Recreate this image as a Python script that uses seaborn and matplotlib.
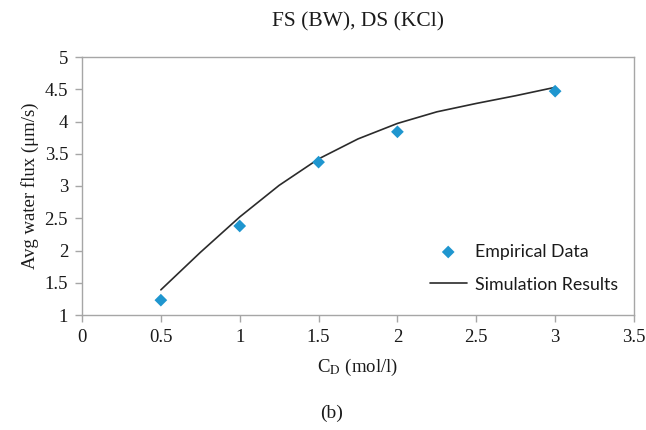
import matplotlib
matplotlib.use("Agg")
import matplotlib.pyplot as plt
import seaborn as sns
import pandas as pd

# Empirical data
emp_x = [0.5, 1.0, 1.5, 2.0, 3.0]
emp_y = [1.23, 2.38, 3.37, 3.84, 4.47]
# Simulation curve
sim_x = [0.5, 0.75, 1.0, 1.25, 1.5, 1.75, 2.0, 2.25, 2.5, 2.75, 3.0]
sim_y = [1.39, 1.97, 2.52, 3.01, 3.42, 3.73, 3.97, 4.15, 4.28, 4.40, 4.53]

x_ticks = [0, 0.5, 1, 1.5, 2, 2.5, 3, 3.5]
y_ticks = [1, 1.5, 2, 2.5, 3, 3.5, 4, 4.5, 5]

sns.set_theme(style="white")
plt.rcParams['font.family'] = ['Liberation Serif', 'DejaVu Serif']
plt.rcParams['mathtext.fontset'] = 'stix'

fig = plt.figure(figsize=(6.46, 4.30), dpi=100)
ax = fig.add_axes([82/646, 1 - 315/430, (634-82)/646, (315-57)/430])

emp = pd.DataFrame({"x": emp_x, "y": emp_y})
sim = pd.DataFrame({"x": sim_x, "y": sim_y})

sns.lineplot(data=sim, x="x", y="y", ax=ax, color="#2b2b2b", linewidth=1.2,
             label="Simulation Results", sort=False)
sns.scatterplot(data=emp, x="x", y="y", ax=ax, marker="D", s=42, color="#1f96cf",
                edgecolor="none", label="Empirical Data", zorder=3)

ax.set_xlim(0, 3.5)
ax.set_ylim(1, 5)
ax.set_xticks(x_ticks)
ax.set_xticklabels([f"{v:g}" for v in x_ticks])
ax.set_yticks(y_ticks)
ax.set_yticklabels([f"{v:g}" for v in y_ticks])

for s in ax.spines.values():
    s.set_color("#a6a6a6")
    s.set_linewidth(1.0)
ax.tick_params(axis="both", which="major", direction="out", length=5, width=1,
               color="#a6a6a6", labelsize=13.5, labelcolor="#1a1a1a", pad=5)
ax.tick_params(axis="x", bottom=True, top=False)
ax.tick_params(axis="y", left=True, right=False)

ax.set_xlabel(r"C$_{\mathrm{D}}$ (mol/l)", fontsize=13.5, color="#1a1a1a", labelpad=8)
ax.set_ylabel("Avg water flux (μm/s)", fontsize=13.5, color="#1a1a1a", labelpad=4)

fig.text(358/646, 1 - 22/430, "FS (BW), DS (KCl)", ha="center", va="center",
         fontsize=15.5, color="#1a1a1a")
fig.text(332/646, 1 - 413/430, "(b)", ha="center", va="center",
         fontsize=14, color="#1a1a1a")

handles, labels = ax.get_legend_handles_labels()
order = [labels.index("Empirical Data"), labels.index("Simulation Results")]
leg = ax.legend([handles[i] for i in order], [labels[i] for i in order],
                loc="lower right", bbox_to_anchor=(1.0, 0.025), frameon=False,
                prop={"family": "Lato", "size": 12.8}, handlelength=2.1,
                labelspacing=0.95, handletextpad=0.45, markerscale=1.0)
for t in leg.get_texts():
    t.set_color("#1a1a1a")

fig.savefig("out.png", dpi=100)
